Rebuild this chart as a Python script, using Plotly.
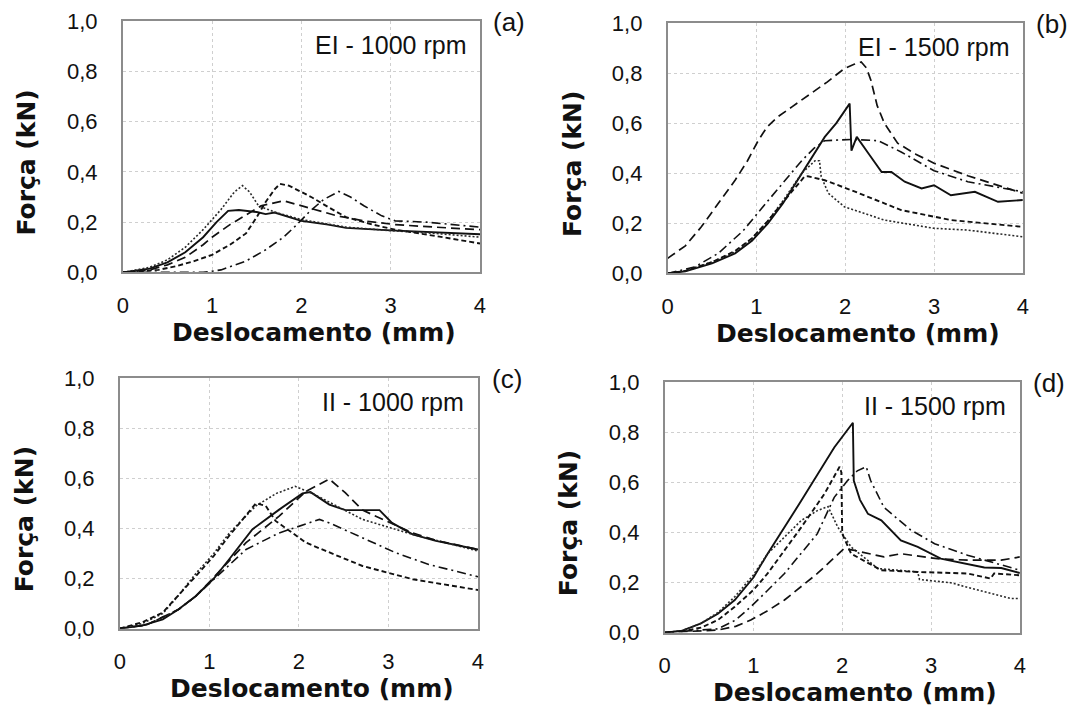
import plotly.graph_objects as go

W, H = 1081, 710

# ---------------- Data (Deslocamento mm, Força kN) ----------------
# Panel (a) EI - 1000 rpm
a_solid_x = [0, 0.3, 0.5, 0.7, 0.9, 1.05, 1.18, 1.3, 1.5, 1.6, 1.7, 1.85, 2.0, 2.3, 2.5, 3.0, 3.5, 4.0]
a_solid_y = [0, 0.015, 0.04, 0.08, 0.14, 0.2, 0.245, 0.248, 0.24, 0.232, 0.238, 0.22, 0.205, 0.19, 0.177, 0.167, 0.16, 0.152]
a_dot_x = [0, 0.3, 0.5, 0.7, 0.9, 1.1, 1.25, 1.34, 1.42, 1.52, 1.7, 2.0, 2.5, 3.0, 3.5, 4.0]
a_dot_y = [0, 0.02, 0.05, 0.1, 0.17, 0.25, 0.32, 0.345, 0.32, 0.265, 0.24, 0.21, 0.18, 0.166, 0.155, 0.14]
a_dash_x = [0, 0.4, 0.6, 0.8, 1.0, 1.2, 1.38, 1.5, 1.6, 1.7, 1.76, 1.86, 2.0, 2.12, 2.3, 2.5, 2.8, 3.05, 3.5, 4.0]
a_dash_y = [0, 0.01, 0.025, 0.045, 0.07, 0.11, 0.155, 0.22, 0.28, 0.33, 0.352, 0.345, 0.32, 0.298, 0.26, 0.22, 0.19, 0.17, 0.145, 0.115]
a_long_x = [0, 0.3, 0.5, 0.7, 0.9, 1.0, 1.2, 1.38, 1.55, 1.8, 1.95, 2.12, 2.4, 2.7, 3.05, 3.5, 4.0]
a_long_y = [0, 0.01, 0.03, 0.06, 0.11, 0.14, 0.19, 0.23, 0.265, 0.285, 0.27, 0.25, 0.225, 0.205, 0.19, 0.18, 0.17]
a_dd_x = [0, 0.9, 1.1, 1.38, 1.6, 1.8, 1.95, 2.1, 2.25, 2.42, 2.55, 2.7, 2.9, 3.05, 3.4, 3.7, 4.0]
a_dd_y = [0, 0.0, 0.01, 0.045, 0.09, 0.14, 0.19, 0.245, 0.29, 0.322, 0.3, 0.265, 0.225, 0.205, 0.2, 0.19, 0.18]

# Panel (b) EI - 1500 rpm
b_solid_x = [0, 0.2, 0.5, 0.76, 0.95, 1.13, 1.3, 1.51, 1.65, 1.77, 1.9, 2.05, 2.07, 2.13, 2.26, 2.41, 2.52, 2.67, 2.86, 3.0, 3.19, 3.46, 3.72, 4.0]
b_solid_y = [0, 0.008, 0.04, 0.08, 0.13, 0.2, 0.28, 0.4, 0.48, 0.545, 0.6, 0.678, 0.49, 0.545, 0.48, 0.405, 0.405, 0.366, 0.339, 0.352, 0.312, 0.326, 0.286, 0.293]
b_dot_x = [0, 0.2, 0.5, 0.76, 0.95, 1.13, 1.3, 1.51, 1.66, 1.71, 1.73, 1.81, 1.99, 2.44, 3.0, 3.38, 4.0]
b_dot_y = [0, 0.01, 0.045, 0.085, 0.14, 0.21, 0.29, 0.4, 0.45, 0.45, 0.386, 0.32, 0.266, 0.213, 0.18, 0.173, 0.146]
b_dash_x = [0, 0.2, 0.5, 0.76, 0.95, 1.13, 1.3, 1.54, 1.58, 1.77, 2.07, 2.63, 3.19, 4.0]
b_dash_y = [0, 0.01, 0.045, 0.09, 0.14, 0.21, 0.285, 0.386, 0.388, 0.372, 0.332, 0.253, 0.213, 0.186]
b_long_x = [0, 0.2, 0.38, 0.57, 0.76, 0.9, 1.02, 1.12, 1.24, 1.4, 1.62, 1.8, 1.99, 2.1, 2.18, 2.24, 2.29, 2.36, 2.44, 2.59, 2.8, 3.0, 3.38, 4.0]
b_long_y = [0.06, 0.11, 0.186, 0.28, 0.372, 0.45, 0.53, 0.585, 0.625, 0.665, 0.718, 0.765, 0.818, 0.835, 0.844, 0.82, 0.77, 0.67, 0.6, 0.52, 0.475, 0.44, 0.39, 0.32]
b_dd_x = [0, 0.3, 0.57, 0.85, 1.13, 1.35, 1.51, 1.65, 1.77, 2.07, 2.37, 2.63, 3.0, 3.38, 4.0]
b_dd_y = [0, 0.025, 0.08, 0.17, 0.29, 0.385, 0.45, 0.5, 0.53, 0.535, 0.53, 0.485, 0.41, 0.366, 0.326]

# Panel (c) II - 1000 rpm
c_solid_x = [0, 0.25, 0.48, 0.65, 0.85, 1.05, 1.22, 1.48, 1.78, 2.04, 2.13, 2.34, 2.52, 2.9, 3.04, 3.27, 3.53, 4.0]
c_solid_y = [0, 0.012, 0.037, 0.075, 0.13, 0.2, 0.276, 0.396, 0.475, 0.54, 0.545, 0.495, 0.473, 0.473, 0.422, 0.376, 0.35, 0.316]
c_dot_x = [0, 0.25, 0.48, 0.65, 0.85, 1.05, 1.22, 1.52, 1.75, 1.96, 2.15, 2.71, 3.27, 4.0]
c_dot_y = [0, 0.02, 0.06, 0.13, 0.22, 0.3, 0.38, 0.49, 0.54, 0.568, 0.54, 0.436, 0.376, 0.31]
c_dash_x = [0, 0.25, 0.48, 0.65, 0.85, 1.05, 1.22, 1.52, 1.63, 1.74, 2.08, 2.3, 2.71, 3.27, 4.0]
c_dash_y = [0, 0.025, 0.064, 0.13, 0.21, 0.29, 0.37, 0.5, 0.49, 0.43, 0.343, 0.31, 0.25, 0.197, 0.154]
c_long_x = [0, 0.3, 0.66, 0.85, 1.03, 1.41, 1.78, 2.08, 2.34, 2.52, 2.71, 3.04, 3.27, 3.53, 4.0]
c_long_y = [0, 0.015, 0.077, 0.13, 0.197, 0.343, 0.449, 0.548, 0.597, 0.542, 0.473, 0.42, 0.382, 0.352, 0.316]
c_dd_x = [0, 0.3, 0.66, 0.85, 1.03, 1.41, 1.78, 2.0, 2.23, 2.34, 2.71, 3.08, 3.45, 4.0]
c_dd_y = [0, 0.015, 0.077, 0.13, 0.19, 0.316, 0.382, 0.409, 0.436, 0.422, 0.362, 0.303, 0.256, 0.207]

# Panel (d) II - 1500 rpm
d_solid_x = [0, 0.2, 0.41, 0.6, 0.79, 1.0, 1.16, 1.54, 1.91, 2.1, 2.12, 2.13, 2.2, 2.29, 2.44, 2.66, 2.85, 3.11, 3.41, 3.6, 3.79, 4.0]
d_solid_y = [0, 0.008, 0.037, 0.075, 0.13, 0.22, 0.315, 0.527, 0.739, 0.832, 0.838, 0.607, 0.53, 0.474, 0.448, 0.368, 0.342, 0.295, 0.275, 0.26, 0.258, 0.238]
d_dot_x = [0, 0.2, 0.41, 0.6, 0.79, 1.0, 1.16, 1.54, 1.72, 1.84, 1.95, 2.1, 2.4, 2.85, 2.87, 3.22, 3.6, 3.9, 4.0]
d_dot_y = [0, 0.008, 0.037, 0.08, 0.143, 0.23, 0.315, 0.448, 0.487, 0.503, 0.421, 0.342, 0.256, 0.242, 0.212, 0.199, 0.163, 0.136, 0.136]
d_dash_x = [0, 0.2, 0.41, 0.6, 0.79, 1.0, 1.16, 1.54, 1.8, 1.97, 1.99, 2.0, 2.1, 2.44, 2.85, 3.41, 3.67, 3.71, 4.0]
d_dash_y = [0, 0.005, 0.02, 0.05, 0.103, 0.17, 0.236, 0.421, 0.554, 0.662, 0.64, 0.395, 0.315, 0.249, 0.242, 0.236, 0.216, 0.236, 0.229]
d_long_x = [0, 0.6, 0.8, 0.97, 1.15, 1.35, 1.72, 2.02, 2.14, 2.47, 2.66, 3.07, 3.41, 3.79, 4.0]
d_long_y = [0, 0.01, 0.025, 0.05, 0.085, 0.13, 0.236, 0.335, 0.328, 0.302, 0.315, 0.295, 0.289, 0.289, 0.302]
d_dd_x = [0, 0.6, 0.8, 0.97, 1.15, 1.35, 1.72, 1.91, 2.06, 2.17, 2.27, 2.32, 2.47, 2.77, 3.04, 3.41, 4.0]
d_dd_y = [0, 0.015, 0.05, 0.103, 0.165, 0.236, 0.395, 0.54, 0.607, 0.646, 0.662, 0.607, 0.5, 0.41, 0.355, 0.309, 0.249]

panel_labels = ["(a)", "(b)", "(c)", "(d)"]
panel_titles = ["EI - 1000 rpm", "EI - 1500 rpm", "II - 1000 rpm", "II - 1500 rpm"]
x_ticks = [0, 1, 2, 3, 4]
y_ticks = [0.0, 0.2, 0.4, 0.6, 0.8, 1.0]
x_title = "Deslocamento (mm)"
y_title = "Força (kN)"

panels = [
    [(a_solid_x, a_solid_y), (a_dot_x, a_dot_y), (a_dash_x, a_dash_y), (a_long_x, a_long_y), (a_dd_x, a_dd_y)],
    [(b_solid_x, b_solid_y), (b_dot_x, b_dot_y), (b_dash_x, b_dash_y), (b_long_x, b_long_y), (b_dd_x, b_dd_y)],
    [(c_solid_x, c_solid_y), (c_dot_x, c_dot_y), (c_dash_x, c_dash_y), (c_long_x, c_long_y), (c_dd_x, c_dd_y)],
    [(d_solid_x, d_solid_y), (d_dot_x, d_dot_y), (d_dash_x, d_dash_y), (d_long_x, d_long_y), (d_dd_x, d_dd_y)],
]

styles = [
    dict(dash="solid", width=1.9, color="#111111"),
    dict(dash="2px,2px", width=1.6, color="#2a2a2a"),
    dict(dash="5px,3px", width=1.9, color="#111111"),
    dict(dash="9px,5px", width=1.7, color="#111111"),
    dict(dash="9px,4px,2px,4px", width=1.6, color="#111111"),
]

# target plot-area boxes (screen pixels): (left, right, top, bottom)
boxes = [(120, 478, 20, 272), (666, 1022, 22, 273), (117, 476, 378, 629), (663, 1019, 382, 633)]


# the page shot is slightly offset / compressed; map screen px -> paper fractions
def fx(px):
    return ((px - 3) / 0.991) / W


def fy(py):
    return 1 - ((py - 11) / 0.967) / H


fig = go.Figure()
layout = dict(
    width=W, height=H, margin=dict(l=0, r=0, t=0, b=0),
    paper_bgcolor="white", plot_bgcolor="white", showlegend=False,
    separators=",.",
    font=dict(family="Liberation Sans, Arial, sans-serif", color="#111111"),
)
annotations = []

for i, (series, box) in enumerate(zip(panels, boxes)):
    l, r, t, b = box
    sfx = "" if i == 0 else str(i + 1)
    for (xs, ys), st in zip(series, styles):
        fig.add_trace(go.Scatter(x=xs, y=ys, mode="lines", line=st,
                                 xaxis="x" + sfx, yaxis="y" + sfx, hoverinfo="skip"))
    axcommon = dict(showline=True, mirror=True, linecolor="#8c8c8c", linewidth=1.5,
                    showgrid=True, gridcolor="#cfcfcf", griddash="dot", gridwidth=1,
                    zeroline=False, ticks="", tickfont=dict(size=22, color="#111111"))
    layout["xaxis" + sfx] = dict(axcommon, domain=[fx(l), fx(r)], range=[0, 4],
                                 tickvals=x_ticks, anchor="y" + sfx, ticklabelstandoff=12)
    layout["yaxis" + sfx] = dict(axcommon, domain=[fy(b), fy(t)], range=[0, 1],
                                 tickvals=y_ticks, tickformat=".1f", anchor="x" + sfx,
                                 ticklabelstandoff=19)
    cx = (l + r) / 2
    annotations.append(dict(text="<b>%s</b>" % x_title, x=fx(cx + 13), y=fy(b + 60),
                            xref="paper", yref="paper", showarrow=False,
                            xanchor="center", yanchor="middle",
                            font=dict(size=25, family="DejaVu Sans, sans-serif", color="#111111")))
    annotations.append(dict(text="<b>%s</b>" % y_title, x=fx(l - 96), y=fy((t + b) / 2 + 16),
                            xref="paper", yref="paper", showarrow=False, textangle=-90,
                            xanchor="center", yanchor="middle",
                            font=dict(size=25, family="DejaVu Sans, sans-serif", color="#111111")))
    annotations.append(dict(text=panel_titles[i], x=fx(r - 12), y=fy(t + 24),
                            xref="paper", yref="paper", showarrow=False,
                            xanchor="right", yanchor="middle",
                            font=dict(size=25, color="#111111")))
    annotations.append(dict(text=panel_labels[i], x=fx(r + 29), y=fy(t + 1),
                            xref="paper", yref="paper", showarrow=False,
                            xanchor="center", yanchor="middle",
                            font=dict(size=26, color="#111111")))

layout["annotations"] = annotations
fig.update_layout(**layout)
fig.write_html("out.html", config={"displayModeBar": False},
               post_script="document.body.style.margin='0px';document.body.style.padding='0px';")
